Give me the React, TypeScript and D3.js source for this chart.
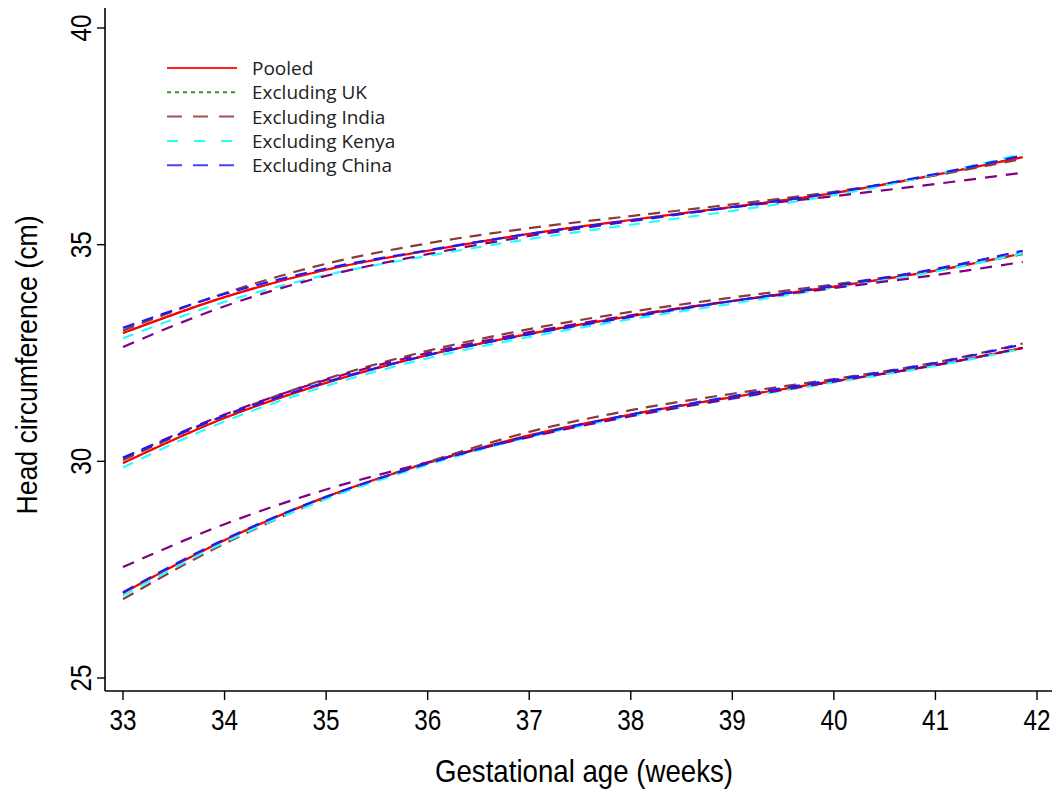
import React from "react";
import * as d3 from "d3";

const ages = [33, 34, 35, 36, 37, 38, 39, 40, 41, 41.86];

// Pooled (red)
const pooledUpper = [32.96, 33.79, 34.42, 34.86, 35.25, 35.57, 35.87, 36.19, 36.61, 37.02];
const pooledMiddle = [29.96, 31.0, 31.81, 32.45, 32.94, 33.35, 33.7, 34.03, 34.4, 34.8];
const pooledLower = [26.96, 28.18, 29.18, 29.96, 30.6, 31.08, 31.48, 31.85, 32.22, 32.62];

// Excluding UK (green dotted) – lies under the pooled curve
const ukUpper = [32.96, 33.79, 34.42, 34.86, 35.25, 35.57, 35.87, 36.19, 36.61, 37.02];
const ukMiddle = [29.96, 31.0, 31.81, 32.45, 32.94, 33.35, 33.7, 34.03, 34.4, 34.8];
const ukLower = [26.96, 28.18, 29.18, 29.96, 30.6, 31.08, 31.48, 31.85, 32.22, 32.62];

// Excluding India (brown)
const indiaUpper = [33.02, 33.88, 34.56, 35.03, 35.38, 35.66, 35.93, 36.22, 36.6, 36.98];
const indiaMiddle = [30.03, 31.06, 31.9, 32.55, 33.05, 33.45, 33.78, 34.08, 34.42, 34.78];
const indiaLower = [26.82, 28.1, 29.15, 29.98, 30.68, 31.18, 31.56, 31.9, 32.28, 32.72];

// Excluding Kenya (cyan)
const kenyaUpper = [32.84, 33.68, 34.3, 34.74, 35.13, 35.46, 35.78, 36.14, 36.62, 37.1];
const kenyaMiddle = [29.86, 30.92, 31.74, 32.38, 32.87, 33.28, 33.64, 34.0, 34.38, 34.8];
const kenyaLower = [26.9, 28.13, 29.13, 29.92, 30.56, 31.04, 31.44, 31.82, 32.2, 32.6];

// Excluding China (blue)
const chinaUpper = [33.08, 33.86, 34.45, 34.87, 35.25, 35.56, 35.87, 36.2, 36.63, 37.06];
const chinaMiddle = [30.08, 31.05, 31.83, 32.45, 32.93, 33.33, 33.7, 34.05, 34.44, 34.86];
const chinaLower = [26.98, 28.2, 29.18, 29.95, 30.58, 31.08, 31.5, 31.88, 32.27, 32.7];

// Unlabelled purple dashed series
const otherUpper = [32.64, 33.58, 34.28, 34.78, 35.2, 35.54, 35.86, 36.12, 36.4, 36.66];
const otherMiddle = [30.08, 31.08, 31.88, 32.5, 32.98, 33.37, 33.7, 34.0, 34.3, 34.6];
const otherLower = [27.56, 28.55, 29.35, 29.98, 30.56, 31.04, 31.45, 31.84, 32.22, 32.62];

const xTicks = [33, 34, 35, 36, 37, 38, 39, 40, 41, 42];
const yTicks = [25, 30, 35, 40];

type Series = {
  name: string;
  color: string;
  dash: string | null;
  width: number;
  curves: number[][];
};

const drawOrder: Series[] = [
  { name: "Excluding UK", color: "#2e9b2e", dash: "4,4", width: 2, curves: [ukUpper, ukMiddle, ukLower] },
  { name: "Pooled", color: "#ff0000", dash: null, width: 2.2, curves: [pooledUpper, pooledMiddle, pooledLower] },
  { name: "Excluding India", color: "#8b3a3a", dash: "12,8", width: 2.2, curves: [indiaUpper, indiaMiddle, indiaLower] },
  { name: "Excluding Kenya", color: "#22ffff", dash: "11,9", width: 2.2, curves: [kenyaUpper, kenyaMiddle, kenyaLower] },
  { name: "Other", color: "#800080", dash: "12,9", width: 2.2, curves: [otherUpper, otherMiddle, otherLower] },
  { name: "Excluding China", color: "#1a1aff", dash: "12,8", width: 2.2, curves: [chinaUpper, chinaMiddle, chinaLower] },
];

const legendItems = [
  { name: "Pooled", color: "#ff2020", dash: null as string | null },
  { name: "Excluding UK", color: "#2e9b2e", dash: "4,4" },
  { name: "Excluding India", color: "#a05454", dash: "15,11" },
  { name: "Excluding Kenya", color: "#22ffff", dash: "11,16" },
  { name: "Excluding China", color: "#4444ff", dash: "15,11" },
];

export default function App() {
  const W = 1059;
  const H = 792;
  const x = d3.scaleLinear().domain([33, 42]).range([123, 1037]);
  const y = d3.scaleLinear().domain([25, 40]).range([678, 28]);
  const axisX = 105;
  const axisY = 691;

  const line = d3
    .line<[number, number]>()
    .x((d) => x(d[0]))
    .y((d) => y(d[1]))
    .curve(d3.curveMonotoneX);

  const font = "'Liberation Sans', Arial, sans-serif";

  return (
    <svg width={W} height={H} style={{ position: "absolute", left: 0, top: 0, background: "#fff" }}>
      <rect x={0} y={0} width={W} height={H} fill="#fff" />
      {drawOrder.map((s) =>
        s.curves.map((vals, ci) => (
          <path
            key={s.name + ci}
            d={line(ages.map((a, i) => [a, vals[i]] as [number, number])) || ""}
            fill="none"
            stroke={s.color}
            strokeWidth={s.width}
            strokeDasharray={s.dash || undefined}
          />
        ))
      )}
      <line x1={axisX} y1={8} x2={axisX} y2={axisY} stroke="#000" strokeWidth={1.6} />
      <line x1={axisX} y1={axisY} x2={1052} y2={axisY} stroke="#000" strokeWidth={1.6} />
      {yTicks.map((t) => (
        <g key={"y" + t}>
          <line x1={axisX - 8} x2={axisX} y1={y(t)} y2={y(t)} stroke="#000" strokeWidth={1.4} />
          <text
            transform={`translate(${axisX - 14},${y(t)}) rotate(-90) scale(0.9,1.12)`}
            textAnchor="middle"
            fontFamily={font}
            fontSize={27}
            fill="#000"
          >
            {t}
          </text>
        </g>
      ))}
      {xTicks.map((t) => (
        <g key={"x" + t}>
          <line x1={x(t)} x2={x(t)} y1={axisY} y2={axisY + 9} stroke="#000" strokeWidth={1.4} />
          <text
            transform={`translate(${x(t)},${axisY + 39}) scale(0.9,1.12)`}
            textAnchor="middle"
            fontFamily={font}
            fontSize={27}
            fill="#000"
          >
            {t}
          </text>
        </g>
      ))}
      <text
        transform="translate(584,782) scale(0.97,1.1)"
        textAnchor="middle"
        fontFamily={font}
        fontSize={28.5}
        fill="#000"
      >
        Gestational age (weeks)
      </text>
      <text
        transform={`translate(37,365) rotate(-90) scale(0.97,1.1)`}
        textAnchor="middle"
        fontFamily={font}
        fontSize={27.5}
        fill="#000"
      >
        Head circumference (cm)
      </text>
      {legendItems.map((l, i) => {
        const ly = 68 + i * 24.3;
        return (
          <g key={"lg" + l.name}>
            <line
              x1={167}
              x2={237}
              y1={ly}
              y2={ly}
              stroke={l.color}
              strokeWidth={2}
              strokeDasharray={l.dash || undefined}
            />
            <text x={252} y={ly + 7} fontFamily="'Open Sans', 'DejaVu Sans', sans-serif" fontSize={19} fill="#222">
              {l.name}
            </text>
          </g>
        );
      })}
    </svg>
  );
}
